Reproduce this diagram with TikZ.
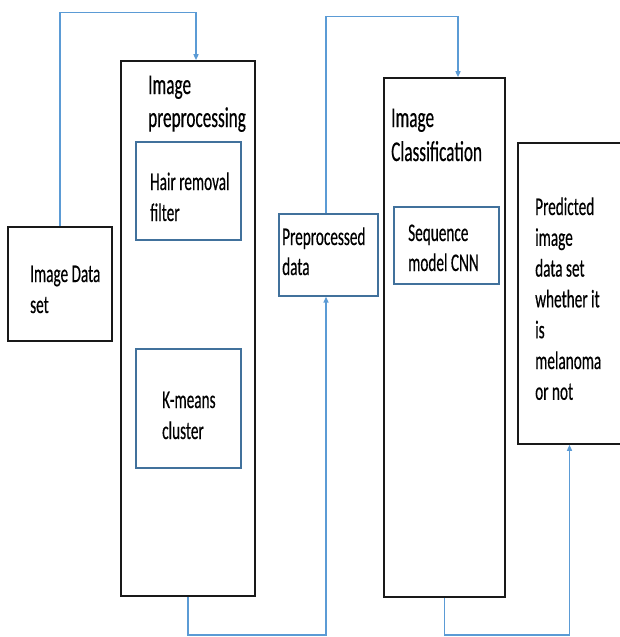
\documentclass[tikz,border=0pt]{standalone}
\usepackage{fontspec}
\setmainfont{Carlito}
\newfontfamily\cf[FakeStretch=0.6,FakeBold=0.4]{Carlito}
\usetikzlibrary{arrows.meta,calc}
\definecolor{connblue}{RGB}{91,155,213}
\definecolor{innerblue}{RGB}{65,113,156}
\newcommand\txtstack[2]{\vtop{\baselineskip=#1\relax\halign{##\hfil\cr#2\cr}}}
\begin{document}
\begin{tikzpicture}[x=1pt,y=-1pt,
  obox/.style={draw=black!90, line width=1.6pt, inner sep=0pt},
  ibox/.style={draw=innerblue, line width=1.3pt, inner sep=0pt},
  conn/.style={draw=connblue, line width=1.4pt, -{Triangle[length=6pt,width=5pt]}},
  small/.style={inner sep=0pt, anchor=base west, font=\cf\fontsize{25.4}{31}\selectfont, text=black},
  title/.style={inner sep=0pt, anchor=base west, font=\cf\fontsize{28.7}{35}\selectfont, text=black}]
\useasboundingbox (0,0) rectangle (619,637);
% boxes
\node[obox, minimum width=104pt, minimum height=114pt] (ids) at (60,284) {};
\node[obox, minimum width=134pt, minimum height=535pt] (pp) at (188,328.5) {};
\node[ibox, minimum width=105pt, minimum height=98pt] (hair) at (188.5,191) {};
\node[ibox, minimum width=105pt, minimum height=119pt] (km) at (188.5,408.5) {};
\node[ibox, minimum width=99pt, minimum height=82pt] (ppd) at (328.5,255) {};
\node[obox, minimum width=121pt, minimum height=519pt] (cls) at (444.5,337.5) {};
\node[ibox, minimum width=105pt, minimum height=77pt] (seq) at (446.5,245.5) {};
\node[obox, minimum width=103pt, minimum height=301pt] (pred) at (569.5,293.5) {};
% texts
\node[small] (tids) at (30,282) {\txtstack{31pt}{Image Data\cr set}};
\node[title] (tpp) at (148,94) {\txtstack{33pt}{Image\cr preprocessing}};
\node[small] (thair) at (150,190) {\txtstack{31pt}{Hair removal\cr filter}};
\node[small] (tkm) at (162,408) {\txtstack{31pt}{K-means\cr cluster}};
\node[small] (tppd) at (282,245) {\txtstack{30pt}{Preprocessed\cr data}};
\node[title] (tcls) at (391,127) {\txtstack{34pt}{Image\cr Classification}};
\node[small] (tseq) at (408,241) {\txtstack{30pt}{Sequence\cr model CNN}};
\node[small] (tpred) at (535,215) {\txtstack{30.8pt}{Predicted\cr image\cr data set\cr whether it\cr is\cr melanoma\cr or not}};
% connectors
\draw[conn] (ids.north) |- ($(pp.north)+(8,-48)$) -- ($(pp.north)+(8,0)$);
\draw[conn] ($(ppd.north)+(-2.5,0)$) |- ($(cls.north)+(13.5,-61)$) -- ($(cls.north)+(13.5,0)$);
\draw[conn] (pp.south) -- ++(0,38) -| ($(ppd.south)+(-2.5,0)$);
\draw[conn] (cls.south) -- ++(0,37) -| (pred.south);
\end{tikzpicture}
\end{document}
